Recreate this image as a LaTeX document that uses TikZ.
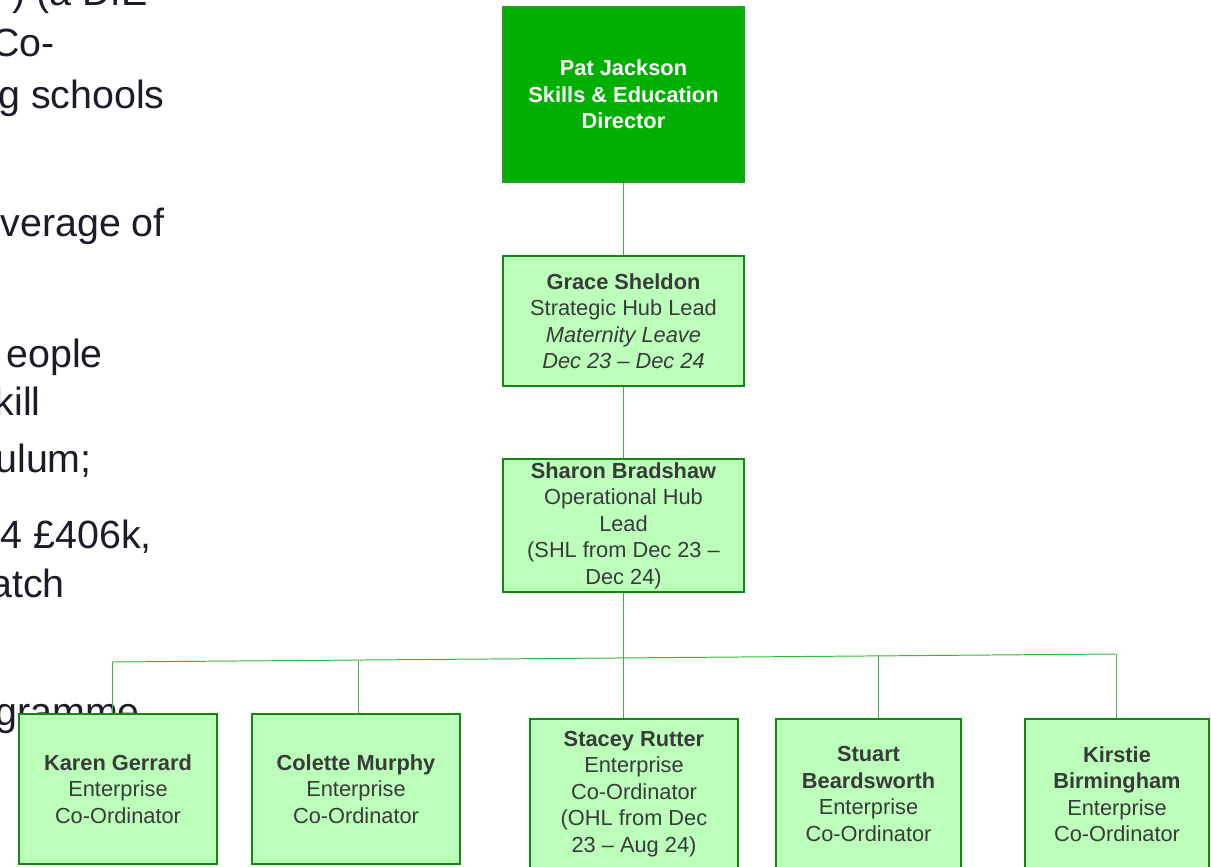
\documentclass[tikz,border=0pt]{standalone}
\usepackage{fontspec}
\setmainfont{Liberation Sans}
\usetikzlibrary{positioning}
\definecolor{headfill}{HTML}{00B000}
\definecolor{headdraw}{HTML}{22A022}
\definecolor{memberfill}{HTML}{BBFFBB}
\definecolor{memberdraw}{HTML}{118811}
\definecolor{linkgreen}{HTML}{33BB33}
\definecolor{membertext}{HTML}{3A3A3A}
\definecolor{bodytext}{HTML}{1C1C28}
\newcommand{\boxfont}{\fontsize{15.5}{18.8}\selectfont}
\tikzset{
  head/.style={draw=headdraw, fill=headfill, line width=1.2pt, text=white,
    font=\boxfont\bfseries, align=center, inner sep=0pt,
    minimum width=6.025cm, minimum height=4.375cm},
  member/.style={draw=memberdraw, fill=memberfill, line width=1.1pt, text=membertext,
    font=\boxfont, align=center, inner sep=0pt, minimum height=3.75cm},
  link/.style={draw=linkgreen, line width=0.7pt},
  bodyline/.style={anchor=base east, text=bodytext, inner sep=0pt,
    font=\fontsize{28}{34}\selectfont}
}

\begin{document}
\begin{tikzpicture}[x=0.025cm, y=-0.025cm]
\useasboundingbox (0,0) rectangle (1211,867);
\clip (0,0) rectangle (1211,867);

% text running in from the left edge
\node[bodyline] (txt-1) at (148,6) {) (a DfE};
\node[bodyline] (txt-2) at (55,57) {Co-};
\node[bodyline] (txt-3) at (165,108) {g schools};
\node[bodyline] (txt-4) at (165,236) {verage of};
\node[bodyline] (txt-5) at (103,367) {eople};
\node[bodyline] (txt-6) at (41,415) {kill};
\node[bodyline] (txt-7) at (92,472) {ulum;};
\node[bodyline] (txt-8) at (152,548) {4 £406k,};
\node[bodyline] (txt-9) at (65,597) {atch};
\node[bodyline] (txt-10) at (140,725) {gramme};

% chart
\node[head] (director) at (623.5,94.5) {Pat Jackson\\Skills \& Education\\Director};
\node[member, minimum width=6.025cm, minimum height=3.25cm] (grace) at (623.5,321)
  {\textbf{Grace Sheldon}\\Strategic Hub Lead\\\textit{Maternity Leave}\\\textit{Dec 23 -- Dec 24}};
\node[member, minimum width=6.025cm, minimum height=3.325cm] (sharon) at (623.5,525.5)
  {\textbf{Sharon Bradshaw}\\Operational Hub\\Lead\\(SHL from Dec 23 --\\Dec 24)};

\node[member, minimum width=4.95cm] (karen) at (118,789) {\textbf{Karen Gerrard}\\Enterprise\\Co-Ordinator};
\node[member, minimum width=5.2cm] (colette) at (356,789) {\textbf{Colette Murphy}\\Enterprise\\Co-Ordinator};
\node[member, minimum width=5.2cm] (stacey) at (634,794)
  {\textbf{Stacey Rutter}\\Enterprise\\Co-Ordinator\\(OHL from Dec\\23 -- Aug 24)};
\node[member, minimum width=4.625cm] (stuart) at (868.5,794) {\textbf{Stuart}\\\textbf{Beardsworth}\\Enterprise\\Co-Ordinator};
\node[member, minimum width=4.6cm] (kirstie) at (1117,794) {\textbf{Kirstie}\\\textbf{Birmingham}\\Enterprise\\Co-Ordinator};

% connectors
\coordinate (bus-karen) at (112,662);
\coordinate (bus-colette) at (358,661);
\coordinate (bus-stuart) at (878,655);
\coordinate (bus-kirstie) at (1116,654);

\draw[link] (director) -- (grace);
\draw[link] (grace) -- (sharon);
\draw[link] (sharon.south) -- (sharon.south |- stacey.north);
\draw[link] (bus-karen) -- (bus-kirstie);
\draw[link] (bus-karen) -- (bus-karen |- karen.north);
\draw[link] (bus-colette) -- (bus-colette |- colette.north);
\draw[link] (bus-stuart) -- (bus-stuart |- stuart.north);
\draw[link] (bus-kirstie) -- (bus-kirstie |- kirstie.north);
\end{tikzpicture}
\end{document}
